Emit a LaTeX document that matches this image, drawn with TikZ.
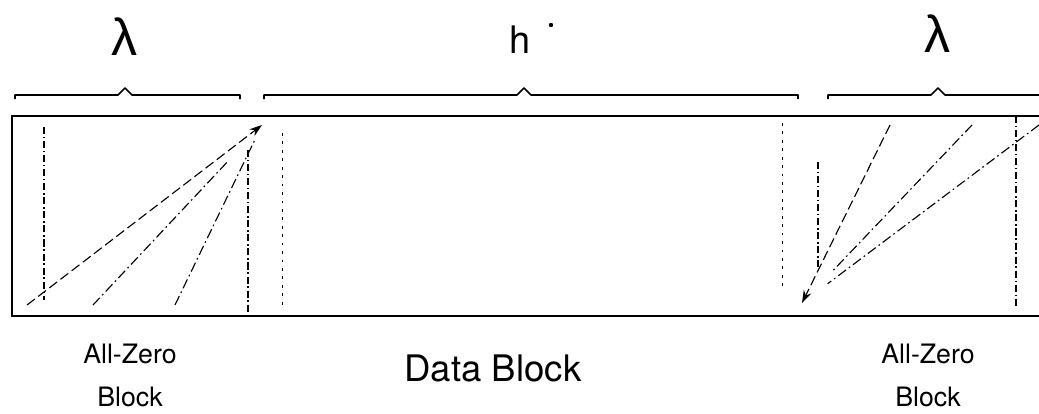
\documentclass[tikz,border=0pt]{standalone}
\usepackage{fontspec}
\setmainfont{TeX Gyre Heros}
\newfontfamily\greekfont{Liberation Sans}
\usetikzlibrary{arrows.meta}
\tikzset{
  frame/.style={line width=1.6pt},
  bracket/.style={line width=1.1pt,line join=round},
  ray/.style={line width=.8pt,dash pattern=on 7pt off 3pt},
  raydot/.style={line width=.8pt,dash pattern=on 7pt off 2.5pt on 1.2pt off 2.5pt},
  guide/.style={line width=.8pt,dash pattern=on 5pt off 2pt on 1pt off 2pt},
  faint/.style={line width=.7pt,dash pattern=on 2pt off 4pt},
  tip/.style={-{Stealth[length=9pt,width=6pt]}},
  lab/.style={font=\fontsize{19}{23}\selectfont,inner sep=0pt},
  lam/.style={font=\greekfont\fontsize{37}{37}\selectfont,inner sep=0pt},
}
\begin{document}
\begin{tikzpicture}[x=.025cm,y=-.025cm]
  \def\T{116}\def\B{316}\def\L{12}\def\E{1039}
  \useasboundingbox (0,0) rectangle (\E,414);
  % labels above the braces
  \node[lam] (lamL) at (125,37) {λ};
  \node[font=\fontsize{27}{27}\selectfont,inner sep=0pt] (hlab) at (520,40) {h};
  \fill (551,25) circle (2.2);
  \node[lam] (lamR) at (937,34) {λ};
  % braces
  \draw[bracket] (15,99)--(15,95)--(118,95)--(125,88)--(132,95)--(240,95)--(240,99);
  \draw[bracket] (264,99)--(264,95)--(517,95)--(524,88)--(531,95)--(798,95)--(798,99);
  \draw[bracket] (828,99)--(828,95)--(931,95)--(938,88)--(945,95)--(\E,95);
  % the frame
  \draw[frame] (\E,\T)--(\L,\T)--(\L,\B)--(\E,\B);
  % block borders
  \draw[guide] (44,127)--(44,300);
  \draw[guide] (248,150)--(248,\B);
  \draw[faint] (282,133)--(282,305);
  \draw[faint] (782,123)--(782,290);
  \draw[guide] (818,162)--(818,267);
  \draw[guide,line width=1pt] (1016,\T)--(1016,307);
  % rays, left block
  \coordinate (tipL) at (262,125);
  \coordinate (l1) at (27,305);
  \coordinate (l2) at (93,305);
  \coordinate (l3) at (175,305);
  \draw[ray,tip] (l1)--(tipL);
  \draw[raydot,shorten >=1.2cm] (l2)--(tipL);
  \draw[raydot,shorten >=.4cm] (l3)--(tipL);
  % rays, right block
  \coordinate (tipR) at (802,303);
  \coordinate (r1) at (890,125);
  \coordinate (r2) at (972,125);
  \coordinate (r3) at (\E,125);
  \draw[ray,tip] (r1)--(tipR);
  \draw[raydot,shorten >=1.1cm] (r2)--(tipR);
  \draw[raydot,shorten >=.8cm] (r3)--(tipR);
  % block names
  \node[lab] (zl1) at (130,354) {All-Zero};
  \node[lab] (zl2) at (130,397) {Block};
  \node[font=\fontsize{26}{30}\selectfont,inner sep=0pt] (data) at (493,368) {Data Block};
  \node[lab] (zr1) at (928,354) {All-Zero};
  \node[lab] (zr2) at (928,397) {Block};
\end{tikzpicture}
\end{document}
